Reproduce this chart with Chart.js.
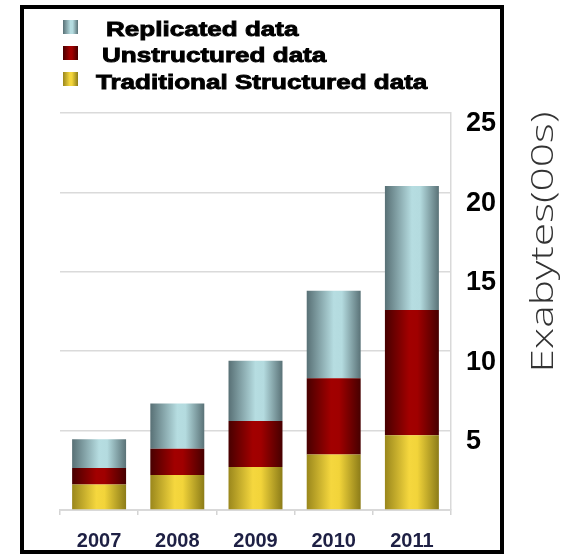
<!DOCTYPE html>
<html>
<head>
<meta charset="utf-8">
<script src="https://cdn.jsdelivr.net/npm/chart.js@4/dist/chart.umd.min.js"></script>
<style>
  html, body { margin: 0; padding: 0; background: #fff; }
  #wrap { width: 569px; height: 555px; }
</style>
</head>
<body>
<div id="wrap"><canvas id="myChart"></canvas></div>
<script>
// data (hundreds of exabytes)
var years = ["2007", "2008", "2009", "2010", "2011"];
var traditional = [1.6, 2.2, 2.7, 3.5, 4.7];
var unstructured = [1.05, 1.65, 2.9, 4.8, 7.9];
var replicated = [1.8, 2.85, 3.8, 5.5, 7.8];
var yTicks = [5, 10, 15, 20, 25];

var seriesNames = ["Traditional Structured data", "Unstructured data", "Replicated data"];

var greyStops = [[0, '#587075'], [0.5, '#b6dde1'], [0.65, '#b4dbdf'], [1, '#5a7277']];
var redStops = [[0, '#480000'], [0.45, '#a20000'], [0.6, '#a00000'], [1, '#460000']];
var yellowStops = [[0, '#9a871c'], [0.45, '#f5d73e'], [0.6, '#f2d43a'], [1, '#8c7c18']];

var BAR_PCT = 0.69;

function makeGradient(c, x0, x1, stops) {
  var g = c.createLinearGradient(x0, 0, x1, 0);
  stops.forEach(function(s){ g.addColorStop(s[0], s[1]); });
  return g;
}

var barFill = (stops) => (context) => {
  var chart = context.chart;
  var xs = chart.scales.x;
  if (!xs || context.dataIndex === undefined) return stops[1][1];
  var center = xs.getPixelForValue(context.dataIndex);
  var half = xs.width / years.length * BAR_PCT / 2;
  if (!isFinite(center) || !isFinite(half) || half <= 0) return stops[1][1];
  return makeGradient(chart.ctx, center - half, center + half, stops);
};

var decorations = {
  id: 'decorations',
  afterDraw: function(chart) {
    var c = chart.ctx;
    c.save();

    // legend (top of stack first)
    var boxes = [greyStops, redStops, yellowStops];
    var names = [seriesNames[2], seriesNames[1], seriesNames[0]];
    var textX = [106, 102, 96];
    var baseY = [36, 62, 89];
    var boxY = [20, 46, 72];
    for (var i = 0; i < 3; i++) {
      c.fillStyle = makeGradient(c, 63, 78, boxes[i]);
      c.fillRect(63, boxY[i], 15, 14);
      c.save();
      c.translate(textX[i], baseY[i]);
      c.scale(1.24, 1);
      c.fillStyle = '#000';
      c.strokeStyle = '#000';
      c.lineWidth = 0.9;
      c.font = 'bold 21px "Liberation Sans", Arial, sans-serif';
      c.textBaseline = 'alphabetic';
      c.textAlign = 'left';
      c.fillText(names[i], 0, 0);
      c.strokeText(names[i], 0, 0);
      c.restore();
    }

    // axis title outside the frame
    c.save();
    c.translate(544, 242);
    c.rotate(-Math.PI / 2);
    c.font = '300 32px "Open Sans", "DejaVu Sans", sans-serif';
    c.fillStyle = '#333';
    c.textAlign = 'center';
    c.textBaseline = 'middle';
    var t = 'Exabytes(00s)';
    var w = c.measureText(t).width;
    c.scale(261 / w, 1);
    c.fillText(t, 0, 0);
    c.restore();

    // black frame
    c.strokeStyle = '#000';
    c.lineWidth = 4;
    c.strokeRect(22, 7, 480, 545);
    c.restore();
  }
};

var ctx = document.getElementById('myChart');

var myChart = new Chart(ctx, {
  type: 'bar',
  data: {
    labels: years,
    datasets: [
      { label: seriesNames[0], data: traditional, backgroundColor: barFill(yellowStops) },
      { label: seriesNames[1], data: unstructured, backgroundColor: barFill(redStops) },
      { label: seriesNames[2], data: replicated, backgroundColor: barFill(greyStops) }
    ]
  },
  options: {
    responsive: true,
    maintainAspectRatio: false,
    animation: false,
    layout: { padding: { left: 60, top: 113, right: 58, bottom: 0 } },
    datasets: { bar: { barPercentage: BAR_PCT, categoryPercentage: 1, borderWidth: 0 } },
    plugins: {
      legend: { display: false },
      tooltip: { enabled: false }
    },
    scales: {
      x: {
        stacked: true,
        afterFit: function(s){ s.height = 45; },
        grid: { drawOnChartArea: false, tickLength: 5, color: '#d4d4d4', lineWidth: 1.5 },
        border: { color: '#d9d9d9', width: 2 },
        ticks: {
          color: '#1e2044',
          padding: 14,
          font: { family: '"Liberation Sans", Arial, sans-serif', size: 20, weight: 'bold' }
        }
      },
      y: {
        stacked: true,
        position: 'right',
        min: 0,
        max: yTicks[yTicks.length - 1],
        afterFit: function(s){ s.width = 60; },
        afterBuildTicks: function(s){
          s.ticks = [0].concat(yTicks).map(function(v){ return { value: v }; });
        },
        grid: { drawTicks: false, color: '#dadada', lineWidth: 1.5 },
        border: { color: '#d9d9d9', width: 1.5 },
        ticks: {
          color: '#000',
          padding: 15,
          labelOffset: 11,
          callback: function(v){ return v === 0 ? '' : v; },
          font: { family: '"Liberation Sans", Arial, sans-serif', size: 27, weight: 'bold' }
        }
      }
    }
  },
  plugins: [decorations]
});
</script>
</body>
</html>
